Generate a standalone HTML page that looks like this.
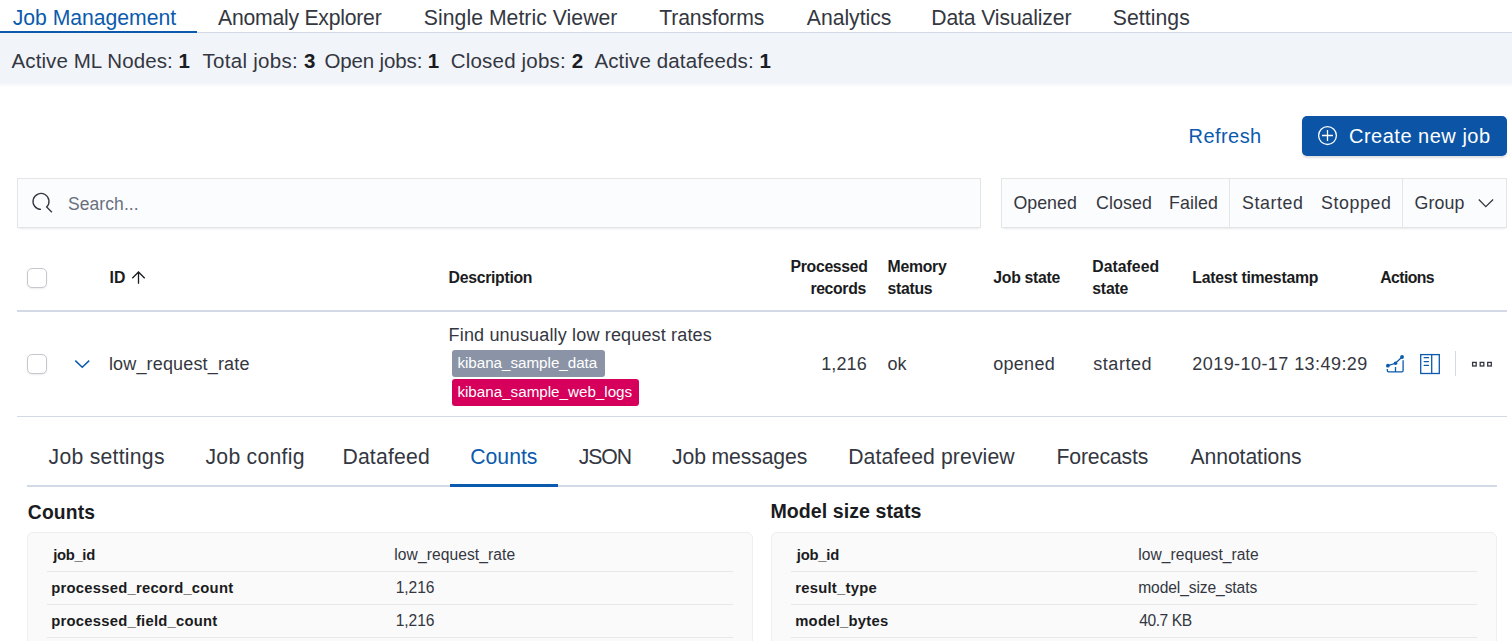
<!DOCTYPE html>
<html><head><meta charset="utf-8">
<style>
*{box-sizing:border-box;margin:0;padding:0}
html,body{width:1512px;height:641px;overflow:hidden;background:#fff}
body{position:relative;font-family:"Liberation Sans",sans-serif;color:#343741}
.a{position:absolute;white-space:nowrap}
b{font-weight:bold}
</style></head><body>
<div class="a" style="left:0px;top:32px;width:1512px;height:1px;background:#d3dae6;"></div>
<div class="a" style="left:0px;top:33px;width:1512px;height:54px;background:linear-gradient(#f1f4f9 0,#f1f4f9 50px,#fff 54px);"></div>
<div class="a" style="left:0px;top:31px;width:197px;height:2px;background:#0b5aad;"></div>
<div class="a" id="t1" style="top:7.05px;font-size:21.2px;line-height:21.2px;color:#0b5aad;letter-spacing:-0.031px;left:12.71px;">Job Management</div>
<div class="a" id="t2" style="top:7.05px;font-size:21.2px;line-height:21.2px;color:#343741;letter-spacing:-0.23299999999999998px;left:218.0px;">Anomaly Explorer</div>
<div class="a" id="t3" style="top:7.05px;font-size:21.2px;line-height:21.2px;color:#343741;letter-spacing:0.04600000000000001px;left:423.8px;">Single Metric Viewer</div>
<div class="a" id="t4" style="top:7.05px;font-size:21.2px;line-height:21.2px;color:#343741;letter-spacing:-0.15099999999999997px;left:659.3px;">Transforms</div>
<div class="a" id="t5" style="top:7.05px;font-size:21.2px;line-height:21.2px;color:#343741;letter-spacing:-0.025999999999999995px;left:806.8px;">Analytics</div>
<div class="a" id="t6" style="top:7.05px;font-size:21.2px;line-height:21.2px;color:#343741;letter-spacing:-0.139px;left:931.3px;">Data Visualizer</div>
<div class="a" id="t7" style="top:7.05px;font-size:21.2px;line-height:21.2px;color:#343741;letter-spacing:0.069px;left:1112.71px;">Settings</div>
<div class="a" id="t8" style="top:50.65px;font-size:20.5px;line-height:20.5px;color:#343741;letter-spacing:0.079px;left:11.6px;">Active ML Nodes: <b style="color:#1a1c21">1</b></div>
<div class="a" id="t9" style="top:50.65px;font-size:20.5px;line-height:20.5px;color:#343741;letter-spacing:0.273px;left:202.6px;">Total jobs: <b style="color:#1a1c21">3</b></div>
<div class="a" id="t10" style="top:50.65px;font-size:20.5px;line-height:20.5px;color:#343741;letter-spacing:-0.132px;left:324.4px;">Open jobs: <b style="color:#1a1c21">1</b></div>
<div class="a" id="t11" style="top:50.65px;font-size:20.5px;line-height:20.5px;color:#343741;letter-spacing:0.187px;left:450.8px;">Closed jobs: <b style="color:#1a1c21">2</b></div>
<div class="a" id="t12" style="top:50.65px;font-size:20.5px;line-height:20.5px;color:#343741;letter-spacing:0.122px;left:594.4px;">Active datafeeds: <b style="color:#1a1c21">1</b></div>
<div class="a" id="t13" style="top:126.07px;font-size:20px;line-height:20px;color:#0b5aad;letter-spacing:0.45px;left:1188.5px;">Refresh</div>
<div class="a" style="left:1302px;top:116px;width:205px;height:40px;background:#0b54a6;border-radius:5px;box-shadow:0 2px 2px rgba(0,0,0,0.12)"></div>
<svg class="a" style="left:1317px;top:125px" width="22" height="22" viewBox="0 0 22 22"><circle cx="10.5" cy="10.6" r="8.9" fill="none" stroke="#fff" stroke-width="1.3"/><path d="M10.5 5v11M5 10.5h11" stroke="#fff" stroke-width="1.3"/></svg>
<div class="a" id="t14" style="top:126.07px;font-size:20px;line-height:20px;color:#fff;letter-spacing:0.504px;left:1349.0px;">Create new job</div>
<div class="a" style="left:17px;top:178px;width:964px;height:50px;background:#fbfcfd;box-shadow:0 1px 1px -1px rgba(152,162,179,.2),0 3px 2px -2px rgba(152,162,179,.2),inset 0 0 0 1px rgba(20,25,40,.1)"></div>
<svg class="a" style="left:28px;top:190px" width="28" height="28" viewBox="0 0 28 28"><path d="M13 19.4 A8 8 0 1 1 18.66 17.06 L23.9 22.2" fill="none" stroke="#343741" stroke-width="1.35"/><path d="" stroke="#343741" stroke-width="1.5"/></svg>
<div class="a" id="t15" style="top:195.89px;font-size:17.5px;line-height:17.5px;color:#69707d;letter-spacing:0.07500000000000001px;left:68.0px;">Search...</div>
<div class="a" style="left:1001px;top:178px;width:506px;height:50px;background:#fbfcfd;box-shadow:0 1px 1px -1px rgba(152,162,179,.2),0 3px 2px -2px rgba(152,162,179,.2),inset 0 0 0 1px rgba(20,25,40,.1)"></div>
<div class="a" style="left:1229px;top:179px;width:1px;height:48px;background:#e3e6eb;"></div>
<div class="a" style="left:1402px;top:179px;width:1px;height:48px;background:#e3e6eb;"></div>
<div class="a" id="t16" style="top:194.63px;font-size:17.8px;line-height:17.8px;color:#343741;left:1013.5px;">Opened</div>
<div class="a" id="t17" style="top:194.63px;font-size:17.8px;line-height:17.8px;color:#343741;letter-spacing:0.1px;left:1096.0px;">Closed</div>
<div class="a" id="t18" style="top:194.63px;font-size:17.8px;line-height:17.8px;color:#343741;letter-spacing:0.1px;left:1169.0px;">Failed</div>
<div class="a" id="t19" style="top:194.63px;font-size:17.8px;line-height:17.8px;color:#343741;letter-spacing:0.6px;left:1242.0px;">Started</div>
<div class="a" id="t20" style="top:194.63px;font-size:17.8px;line-height:17.8px;color:#343741;letter-spacing:0.6px;left:1321.0px;">Stopped</div>
<div class="a" id="t21" style="top:194.63px;font-size:17.8px;line-height:17.8px;color:#343741;letter-spacing:0.1px;left:1414.61px;">Group</div>
<svg class="a" style="left:1476px;top:195px" width="20" height="16" viewBox="0 0 20 16"><path d="M2.8 4.5 L9.8 11.6 L17.1 4.5" fill="none" stroke="#343741" stroke-width="1.3"/></svg>
<div class="a" style="left:27px;top:268px;width:20px;height:20px;background:#fff;border:1px solid #c5c7cc;border-radius:5px;box-shadow:0 1px 2px rgba(0,0,0,0.08)"></div>
<div class="a" id="t22" style="top:270.13px;font-size:15.8px;line-height:15.8px;color:#1a1c21;font-weight:bold;left:109.5px;">ID</div>
<svg class="a" style="left:130px;top:270px" width="16" height="16" viewBox="0 0 16 16"><path d="M8.5 2.2 V13.8 M2.3 8.2 L8.5 2 L14.7 8.2" fill="none" stroke="#1a1c21" stroke-width="1.3"/></svg>
<div class="a" id="t23" style="top:270.13px;font-size:15.8px;line-height:15.8px;color:#1a1c21;font-weight:bold;letter-spacing:-0.3px;left:448.61px;">Description</div>
<div class="a" id="t24" style="top:258.83px;font-size:15.8px;line-height:15.8px;color:#1a1c21;font-weight:bold;letter-spacing:-0.326px;right:644.4399999999999px;text-align:right;">Processed</div>
<div class="a" id="t25" style="top:281.13px;font-size:15.8px;line-height:15.8px;color:#1a1c21;font-weight:bold;letter-spacing:-0.352px;right:646.1099999999999px;text-align:right;">records</div>
<div class="a" id="t26" style="top:258.83px;font-size:15.8px;line-height:15.8px;color:#1a1c21;font-weight:bold;letter-spacing:-0.28px;left:887.5px;">Memory</div>
<div class="a" id="t27" style="top:281.13px;font-size:15.8px;line-height:15.8px;color:#1a1c21;font-weight:bold;letter-spacing:-0.3px;left:887.5px;">status</div>
<div class="a" id="t28" style="top:270.13px;font-size:15.8px;line-height:15.8px;color:#1a1c21;font-weight:bold;letter-spacing:-0.3px;left:993.3px;">Job state</div>
<div class="a" id="t29" style="top:258.83px;font-size:15.8px;line-height:15.8px;color:#1a1c21;font-weight:bold;letter-spacing:0.012px;left:1092.3px;">Datafeed</div>
<div class="a" id="t30" style="top:281.13px;font-size:15.8px;line-height:15.8px;color:#1a1c21;font-weight:bold;letter-spacing:-0.225px;left:1092.3px;">state</div>
<div class="a" id="t31" style="top:270.13px;font-size:15.8px;line-height:15.8px;color:#1a1c21;font-weight:bold;letter-spacing:-0.258px;left:1192.3px;">Latest timestamp</div>
<div class="a" id="t32" style="top:270.13px;font-size:15.8px;line-height:15.8px;color:#1a1c21;font-weight:bold;letter-spacing:-0.6px;left:1380.3px;">Actions</div>
<div class="a" style="left:17px;top:310px;width:1490px;height:2px;background:#d3dae6;"></div>
<div class="a" style="left:27px;top:354px;width:20px;height:20px;background:#fff;border:1px solid #c5c7cc;border-radius:5px;box-shadow:0 1px 2px rgba(0,0,0,0.08)"></div>
<svg class="a" style="left:72px;top:356px" width="20" height="16" viewBox="0 0 20 16"><path d="M3.3 4.6 L10.25 11.2 L17.2 4.6" fill="none" stroke="#0b5aad" stroke-width="1.5"/></svg>
<div class="a" id="t33" style="top:354.96px;font-size:18px;line-height:18px;color:#343741;letter-spacing:0.16599999999999998px;left:108.9px;">low_request_rate</div>
<div class="a" id="t34" style="top:325.76px;font-size:18px;line-height:18px;color:#343741;letter-spacing:0.161px;left:448.61px;">Find unusually low request rates</div>
<div class="a" style="left:452px;top:350px;width:153px;height:27px;background:#8a94a6;border-radius:3px"></div>
<div class="a" id="t35" style="top:355.13px;font-size:15.2px;line-height:15.2px;color:#fff;letter-spacing:-0.017999999999999988px;left:457.40999999999997px;">kibana_sample_data</div>
<div class="a" style="left:452px;top:379px;width:187px;height:27px;background:#d6005c;border-radius:3px"></div>
<div class="a" id="t36" style="top:384.13px;font-size:15.2px;line-height:15.2px;color:#fff;letter-spacing:-0.0010000000000000009px;left:457.40999999999997px;">kibana_sample_web_logs</div>
<div class="a" id="t37" style="top:354.76px;font-size:18px;line-height:18px;color:#343741;letter-spacing:0.125px;right:645.14px;text-align:right;">1,216</div>
<div class="a" id="t38" style="top:354.76px;font-size:18px;line-height:18px;color:#343741;left:887.5px;">ok</div>
<div class="a" id="t39" style="top:354.76px;font-size:18px;line-height:18px;color:#343741;letter-spacing:0.26px;left:993.3px;">opened</div>
<div class="a" id="t40" style="top:354.76px;font-size:18px;line-height:18px;color:#343741;letter-spacing:0.538px;left:1093.3px;">started</div>
<div class="a" id="t41" style="top:354.76px;font-size:18px;line-height:18px;color:#343741;letter-spacing:0.436px;left:1192.3px;">2019-10-17 13:49:29</div>
<svg class="a" style="left:1384px;top:353px" width="22" height="22" viewBox="0 0 22 22"><path d="M3.9 12.7 L11.5 10.3 L18.05 4" fill="none" stroke="#0b5aad" stroke-width="1.3"/><circle cx="3.9" cy="12.7" r="1.9" fill="#0b5aad"/><circle cx="11.5" cy="10.3" r="1.8" fill="#0b5aad"/><circle cx="18.05" cy="4" r="1.9" fill="#0b5aad"/><path d="M3.3 16 V17.6 Q3.3 18.9 4.6 18.9 H17.8 Q19.1 18.9 19.1 17.6 V7.3 M11.5 14 V18.9" fill="none" stroke="#0b5aad" stroke-width="1.3"/></svg>
<svg class="a" style="left:1419px;top:353px" width="22" height="22" viewBox="0 0 22 22"><rect x="1.7" y="1.6" width="18.6" height="18.9" fill="none" stroke="#0b5aad" stroke-width="1.3"/><path d="M12.7 1.6 V20.5" fill="none" stroke="#0b5aad" stroke-width="1.3"/><path d="M5.2 4.7 H9.5 M5.2 8.6 H9.5 M5.2 12.4 H9.5" fill="none" stroke="#0b5aad" stroke-width="1.3" stroke-linecap="round"/></svg>
<div class="a" style="left:1455px;top:351px;width:1px;height:25px;background:#d3dae6;"></div>
<svg class="a" style="left:1470px;top:359px" width="26" height="10" viewBox="0 0 26 10"><rect x="2.6" y="3.4" width="3.6" height="3.6" fill="none" stroke="#343741" stroke-width="1.3"/><rect x="10.2" y="3.4" width="3.6" height="3.6" fill="none" stroke="#343741" stroke-width="1.3"/><rect x="17.7" y="3.4" width="3.6" height="3.6" fill="none" stroke="#343741" stroke-width="1.3"/></svg>
<div class="a" style="left:17px;top:416px;width:1490px;height:1px;background:#d3dae6;"></div>
<div class="a" style="left:27px;top:485px;width:1470px;height:2px;background:#d3dae6;"></div>
<div class="a" style="left:450px;top:484px;width:108px;height:3px;background:#0b5aad;"></div>
<div class="a" id="t42" style="top:446.05px;font-size:21.2px;line-height:21.2px;color:#343741;letter-spacing:0.257px;left:48.61px;">Job settings</div>
<div class="a" id="t43" style="top:446.05px;font-size:21.2px;line-height:21.2px;color:#343741;letter-spacing:0.267px;left:205.5px;">Job config</div>
<div class="a" id="t44" style="top:446.05px;font-size:21.2px;line-height:21.2px;color:#343741;letter-spacing:0.194px;left:342.4px;">Datafeed</div>
<div class="a" id="t45" style="top:446.05px;font-size:21.2px;line-height:21.2px;color:#0b5aad;letter-spacing:0.020000000000000004px;left:470.21000000000004px;">Counts</div>
<div class="a" id="t46" style="top:446.05px;font-size:21.2px;line-height:21.2px;color:#343741;letter-spacing:-1.0999999999999999px;left:578.8px;">JSON</div>
<div class="a" id="t47" style="top:446.05px;font-size:21.2px;line-height:21.2px;color:#343741;letter-spacing:-0.126px;left:672.0px;">Job messages</div>
<div class="a" id="t48" style="top:446.05px;font-size:21.2px;line-height:21.2px;color:#343741;letter-spacing:0.1px;left:848.21px;">Datafeed preview</div>
<div class="a" id="t49" style="top:446.05px;font-size:21.2px;line-height:21.2px;color:#343741;letter-spacing:-0.15px;left:1056.5px;">Forecasts</div>
<div class="a" id="t50" style="top:446.05px;font-size:21.2px;line-height:21.2px;color:#343741;letter-spacing:-0.09px;left:1190.5px;">Annotations</div>
<div class="a" id="t51" style="top:502.86px;font-size:19.3px;line-height:19.3px;color:#1a1c21;font-weight:bold;letter-spacing:0.16px;left:27.8px;">Counts</div>
<div class="a" id="t52" style="top:502.01px;font-size:19.6px;line-height:19.6px;color:#1a1c21;font-weight:bold;letter-spacing:0.049px;left:770.41px;">Model size stats</div>
<div class="a" style="left:27px;top:532px;width:726px;height:130px;background:#fafafa;border:1px solid #eceef1;border-radius:6px"></div>
<div class="a" id="t53" style="top:548.07px;font-size:14.8px;line-height:14.8px;color:#1a1c21;font-weight:bold;letter-spacing:-0.34px;left:53.3px;">job_id</div>
<div class="a" id="t54" style="top:547.39px;font-size:15.6px;line-height:15.6px;color:#343741;letter-spacing:0.076px;left:394.3px;">low_request_rate</div>
<div class="a" style="left:47px;top:571px;width:686px;height:1px;background:#e6e8eb;"></div>
<div class="a" id="t55" style="top:581.07px;font-size:14.8px;line-height:14.8px;color:#1a1c21;font-weight:bold;letter-spacing:0.238px;left:51.3px;">processed_record_count</div>
<div class="a" id="t56" style="top:580.39px;font-size:15.6px;line-height:15.6px;color:#343741;letter-spacing:-0.1px;left:395.8px;">1,216</div>
<div class="a" style="left:47px;top:604px;width:686px;height:1px;background:#e6e8eb;"></div>
<div class="a" id="t57" style="top:614.07px;font-size:14.8px;line-height:14.8px;color:#1a1c21;font-weight:bold;letter-spacing:0.24px;left:51.3px;">processed_field_count</div>
<div class="a" id="t58" style="top:613.39px;font-size:15.6px;line-height:15.6px;color:#343741;letter-spacing:-0.1px;left:395.8px;">1,216</div>
<div class="a" style="left:47px;top:637px;width:686px;height:1px;background:#e6e8eb;"></div>
<div class="a" style="left:771px;top:532px;width:726px;height:130px;background:#fafafa;border:1px solid #eceef1;border-radius:6px"></div>
<div class="a" id="t59" style="top:548.07px;font-size:14.8px;line-height:14.8px;color:#1a1c21;font-weight:bold;letter-spacing:-0.22px;left:796.8px;">job_id</div>
<div class="a" id="t60" style="top:547.39px;font-size:15.6px;line-height:15.6px;color:#343741;letter-spacing:0.049px;left:1138.21px;">low_request_rate</div>
<div class="a" style="left:791px;top:571px;width:686px;height:1px;background:#e6e8eb;"></div>
<div class="a" id="t61" style="top:581.07px;font-size:14.8px;line-height:14.8px;color:#1a1c21;font-weight:bold;letter-spacing:0.26px;left:795.2099999999999px;">result_type</div>
<div class="a" id="t62" style="top:580.39px;font-size:15.6px;line-height:15.6px;color:#343741;letter-spacing:-0.098px;left:1138.21px;">model_size_stats</div>
<div class="a" style="left:791px;top:604px;width:686px;height:1px;background:#e6e8eb;"></div>
<div class="a" id="t63" style="top:614.07px;font-size:14.8px;line-height:14.8px;color:#1a1c21;font-weight:bold;letter-spacing:0.25px;left:795.2099999999999px;">model_bytes</div>
<div class="a" id="t64" style="top:613.39px;font-size:15.6px;line-height:15.6px;color:#343741;letter-spacing:-0.429px;left:1139.21px;">40.7 KB</div>
<div class="a" style="left:791px;top:637px;width:686px;height:1px;background:#e6e8eb;"></div>
</body></html>
